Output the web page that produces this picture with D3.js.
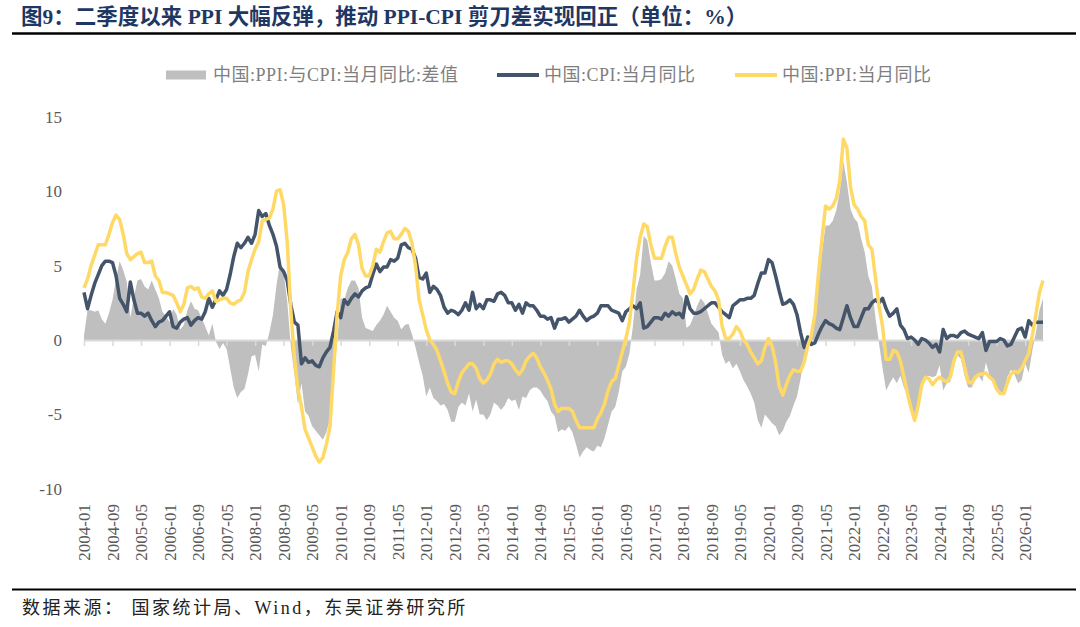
<!DOCTYPE html>
<html>
<head>
<meta charset="utf-8">
<script src="https://cdn.jsdelivr.net/npm/d3@7"></script>
<style>
  body { margin: 0; background: #ffffff; }
  svg { display: block; }
</style>
</head>
<body>
<svg id="chart"></svg>
<script>
// China CPI / PPI, year-on-year %, monthly from 2004-01
const startYear = 2004;

const cpi = [
  3.2, 2.1, 3.0, 3.8, 4.4, 5.0, 5.3, 5.3, 5.2, 4.3, 2.8, 2.4,      // 2004
  1.9, 3.9, 2.7, 1.8, 1.8, 1.6, 1.8, 1.3, 0.9, 1.2, 1.3, 1.6,      // 2005
  1.9, 0.9, 0.8, 1.2, 1.4, 1.5, 1.0, 1.3, 1.5, 1.4, 1.9, 2.8,      // 2006
  2.2, 2.7, 3.3, 3.0, 3.4, 4.4, 5.6, 6.5, 6.2, 6.5, 6.9, 6.5,      // 2007
  7.1, 8.7, 8.3, 8.5, 7.7, 7.1, 6.3, 4.9, 4.6, 4.0, 2.4, 1.2,      // 2008
  1.0, -1.6, -1.2, -1.5, -1.4, -1.7, -1.8, -1.2, -0.8, -0.5, 0.6, 1.9, // 2009
  1.5, 2.7, 2.4, 2.8, 3.1, 2.9, 3.3, 3.5, 3.6, 4.4, 5.1, 4.6,      // 2010
  4.9, 4.9, 5.4, 5.3, 5.5, 6.4, 6.5, 6.2, 6.1, 5.5, 4.2, 4.1,      // 2011
  4.5, 3.2, 3.6, 3.4, 3.0, 2.2, 1.8, 2.0, 1.9, 1.7, 2.0, 2.5,      // 2012
  2.0, 3.2, 2.1, 2.4, 2.1, 2.7, 2.7, 2.6, 3.1, 3.2, 3.0, 2.5,      // 2013
  2.5, 2.0, 2.4, 1.8, 2.5, 2.3, 2.3, 2.0, 1.6, 1.6, 1.4, 1.5,      // 2014
  0.8, 1.4, 1.4, 1.5, 1.2, 1.4, 1.6, 2.0, 1.6, 1.3, 1.5, 1.6,      // 2015
  1.8, 2.3, 2.3, 2.3, 2.0, 1.9, 1.8, 1.3, 1.9, 2.1, 2.3, 2.1,      // 2016
  2.5, 0.8, 0.9, 1.2, 1.5, 1.5, 1.4, 1.8, 1.6, 1.9, 1.7, 1.8,      // 2017
  1.5, 2.9, 2.1, 1.8, 1.8, 1.9, 2.1, 2.3, 2.5, 2.5, 2.2, 1.9,      // 2018
  1.7, 1.5, 2.3, 2.5, 2.7, 2.7, 2.8, 2.8, 3.0, 3.8, 4.5, 4.5,      // 2019
  5.4, 5.2, 4.3, 3.3, 2.4, 2.5, 2.7, 2.4, 1.7, 0.5, -0.5, 0.2,     // 2020
  -0.3, -0.2, 0.4, 0.9, 1.3, 1.1, 1.0, 0.8, 0.7, 1.5, 2.3, 1.5,    // 2021
  0.9, 0.9, 1.5, 2.1, 2.1, 2.5, 2.7, 2.5, 2.8, 2.1, 1.6, 1.8,      // 2022
  2.1, 1.0, 0.7, 0.1, 0.2, 0.0, -0.3, 0.1, 0.0, -0.2, -0.5, -0.3,  // 2023
  -0.8, 0.7, 0.1, 0.3, 0.3, 0.2, 0.5, 0.6, 0.4, 0.3, 0.2, 0.1,     // 2024
  0.5, -0.7, -0.1, -0.1, -0.1, 0.1, 0.0, -0.4, -0.3, 0.2, 0.7, 0.8, // 2025
  0.2, 1.3, 1.0, 1.2, 1.2, 1.2                                     // 2026
];

const ppi = [
  3.5, 4.1, 5.0, 5.7, 6.4, 6.4, 6.4, 7.1, 7.9, 8.4, 8.1, 7.1,      // 2004
  5.8, 5.4, 5.6, 5.8, 5.9, 5.2, 5.2, 5.3, 4.3, 4.0, 3.2, 3.2,      // 2005
  3.1, 3.0, 2.5, 1.9, 2.4, 3.5, 3.6, 3.4, 3.5, 2.9, 2.8, 3.1,      // 2006
  3.3, 2.6, 2.7, 2.8, 2.8, 2.5, 2.4, 2.6, 2.7, 3.2, 4.6, 5.4,      // 2007
  6.1, 6.6, 8.0, 8.1, 8.2, 8.8, 10.0, 10.1, 9.1, 6.6, 2.0, -1.1,   // 2008
  -3.3, -4.5, -6.0, -6.6, -7.2, -7.8, -8.2, -7.9, -7.0, -5.8, -2.1, 1.7, // 2009
  4.3, 5.4, 5.9, 6.8, 7.1, 6.4, 4.8, 4.3, 4.3, 5.0, 6.1, 5.9,      // 2010
  6.6, 7.2, 7.3, 6.8, 6.8, 7.1, 7.5, 7.3, 6.5, 5.0, 2.7, 1.7,      // 2011
  0.7, 0.0, -0.3, -0.7, -1.4, -2.1, -2.9, -3.5, -3.6, -2.8, -2.2, -1.9, // 2012
  -1.6, -1.6, -1.9, -2.6, -2.9, -2.7, -2.3, -1.6, -1.3, -1.5, -1.4, -1.4, // 2013
  -1.6, -2.0, -2.3, -2.0, -1.4, -1.1, -0.9, -1.2, -1.8, -2.2, -2.7, -3.3, // 2014
  -4.3, -4.8, -4.6, -4.6, -4.6, -4.8, -5.4, -5.9, -5.9, -5.9, -5.9, -5.9, // 2015
  -5.3, -4.9, -4.3, -3.4, -2.8, -2.6, -1.7, -0.8, 0.1, 1.2, 3.3, 5.5,    // 2016
  6.9, 7.8, 7.6, 6.4, 5.5, 5.5, 5.5, 6.3, 6.9, 6.9, 5.8, 4.9,      // 2017
  4.3, 3.7, 3.1, 3.4, 4.1, 4.7, 4.6, 4.1, 3.6, 3.3, 2.7, 0.9,      // 2018
  0.1, 0.1, 0.4, 0.9, 0.6, 0.0, -0.3, -0.8, -1.2, -1.6, -1.4, -0.5, // 2019
  0.1, -0.4, -1.5, -3.1, -3.7, -3.0, -2.4, -2.0, -2.1, -2.1, -1.5, -0.4, // 2020
  0.3, 1.7, 4.4, 6.8, 9.0, 8.8, 9.0, 9.5, 10.7, 13.5, 12.9, 10.3,  // 2021
  9.1, 8.8, 8.3, 8.0, 6.4, 6.1, 4.2, 2.3, 0.9, -1.3, -1.3, -0.7,   // 2022
  -0.8, -1.4, -2.5, -3.6, -4.6, -5.4, -4.4, -3.0, -2.5, -2.6, -3.0, -2.7, // 2023
  -2.5, -2.7, -2.8, -2.5, -1.4, -0.8, -0.8, -1.8, -2.8, -2.9, -2.5, -2.3, // 2024
  -2.3, -2.2, -2.5, -2.7, -3.3, -3.6, -3.6, -2.9, -2.3, -2.1, -2.2, -1.9, // 2025
  -1.4, -0.9, 0.3, 1.7, 3.2, 4.0                                   // 2026
];

// PPI - CPI spread
const spread = ppi.map((v, i) => +(v - cpi[i]).toFixed(1));

const tickLabels = [
  "2004-01", "2004-09", "2005-05", "2006-01", "2006-09", "2007-05", "2008-01",
  "2008-09", "2009-05", "2010-01", "2010-09", "2011-05", "2012-01", "2012-09",
  "2013-05", "2014-01", "2014-09", "2015-05", "2016-01", "2016-09", "2017-05",
  "2018-01", "2018-09", "2019-05", "2020-01", "2020-09", "2021-05", "2022-01",
  "2022-09", "2023-05", "2024-01", "2024-09", "2025-05", "2026-01"
];
const yTicks = [-10, -5, 0, 5, 10, 15];

const seriesNames = ["中国:PPI:与CPI:当月同比:差值", "中国:CPI:当月同比", "中国:PPI:当月同比"];

const months = cpi.map((d, i) =>
  `${startYear + Math.floor(i / 12)}-${String(i % 12 + 1).padStart(2, "0")}`);

// Dimensions
const width = 1080;
const height = 627;
const serif = "'Liberation Serif', 'Times New Roman', 'Noto Sans CJK SC', serif";

const svg = d3.select("#chart")
  .attr("width", width)
  .attr("height", height)
  .attr("viewBox", [0, 0, width, height]);

const x = d3.scaleLinear().domain([0, cpi.length - 1]).range([84, 1043]);
const y = d3.scaleLinear().domain([-10, 15]).range([488.8, 116.8]);

// Title + rules
svg.append("text")
  .attr("x", 21)
  .attr("y", 24)
  .style("font-family", serif)
  .style("font-size", "21.5px")
  .style("font-weight", "bold")
  .attr("fill", "#1f3763")
  .text("图9：二季度以来 PPI 大幅反弹，推动 PPI-CPI 剪刀差实现回正（单位：%）");

svg.append("line")
  .attr("x1", 12).attr("x2", 1076)
  .attr("y1", 33.5).attr("y2", 33.5)
  .attr("stroke", "#000").attr("stroke-width", 2.5);

svg.append("line")
  .attr("x1", 12).attr("x2", 1076)
  .attr("y1", 589.5).attr("y2", 589.5)
  .attr("stroke", "#000").attr("stroke-width", 2);

svg.append("text")
  .attr("x", 22)
  .attr("y", 614)
  .style("font-family", serif)
  .style("font-size", "18px")
  .style("letter-spacing", "2.5px")
  .attr("fill", "#222")
  .text("数据来源： 国家统计局、Wind，东吴证券研究所");

// Spread area
svg.append("path")
  .datum(spread)
  .attr("fill", "#bfbfbf")
  .attr("d", d3.area()
    .x((d, i) => x(i))
    .y0(y(0))
    .y1(d => y(d)));

// Zero axis with ticks
const tickIdx = tickLabels.map(t => months.indexOf(t));

const zeroAxis = svg.append("g")
  .attr("transform", `translate(0,${y(0)})`)
  .call(d3.axisBottom(x).tickValues(tickIdx).tickSize(6).tickSizeOuter(0).tickFormat(""));
zeroAxis.select(".domain").attr("stroke", "#d9d9d9").attr("stroke-width", 2);
zeroAxis.selectAll(".tick line").attr("stroke", "#d9d9d9").attr("stroke-width", 1.5);

// Rotated date labels
const labelAxis = svg.append("g")
  .attr("transform", "translate(0,504)")
  .call(d3.axisBottom(x).tickValues(tickIdx).tickSize(0).tickFormat(i => months[i]));
labelAxis.select(".domain").remove();
labelAxis.selectAll("text")
  .attr("x", 0).attr("y", 0).attr("dy", "0.33em")
  .attr("transform", "rotate(-90)")
  .attr("text-anchor", "end")
  .style("font-family", serif)
  .style("font-size", "17px")
  .attr("fill", "#595959");

// Y labels
const yAxis = svg.append("g")
  .attr("transform", "translate(62,0)")
  .call(d3.axisLeft(y).tickValues(yTicks).tickSize(0).tickPadding(0).tickFormat(d => String(d)));
yAxis.select(".domain").remove();
yAxis.selectAll("text")
  .style("font-family", serif)
  .style("font-size", "17px")
  .attr("fill", "#595959");

// Lines
const line = d3.line().x((d, i) => x(i)).y(d => y(d));

svg.append("path")
  .datum(cpi)
  .attr("fill", "none")
  .attr("stroke", "#44546a")
  .attr("stroke-width", 3.5)
  .attr("stroke-linejoin", "round")
  .attr("d", line);

svg.append("path")
  .datum(ppi)
  .attr("fill", "none")
  .attr("stroke", "#ffd966")
  .attr("stroke-width", 3.5)
  .attr("stroke-linejoin", "round")
  .attr("d", line);

// Legend
const legend = svg.append("g").attr("transform", "translate(0,75)");
const legendItems = [
  { name: seriesNames[0], x: 166, type: "rect", color: "#bfbfbf" },
  { name: seriesNames[1], x: 497, type: "line", color: "#44546a" },
  { name: seriesNames[2], x: 735, type: "line", color: "#ffd966" }
];
legendItems.forEach(d => {
  if (d.type === "rect") {
    legend.append("rect")
      .attr("x", d.x).attr("y", -4.5)
      .attr("width", 40).attr("height", 9)
      .attr("fill", d.color);
  } else {
    legend.append("line")
      .attr("x1", d.x).attr("x2", d.x + 42)
      .attr("y1", 0).attr("y2", 0)
      .attr("stroke", d.color).attr("stroke-width", 4);
  }
  legend.append("text")
    .attr("x", d.x + 47)
    .attr("y", 0)
    .attr("dy", "0.35em")
    .style("font-family", serif)
    .style("font-size", "18px")
    .style("letter-spacing", "0.5px")
    .attr("fill", "#7f7f7f")
    .text(d.name);
});
</script>
</body>
</html>
